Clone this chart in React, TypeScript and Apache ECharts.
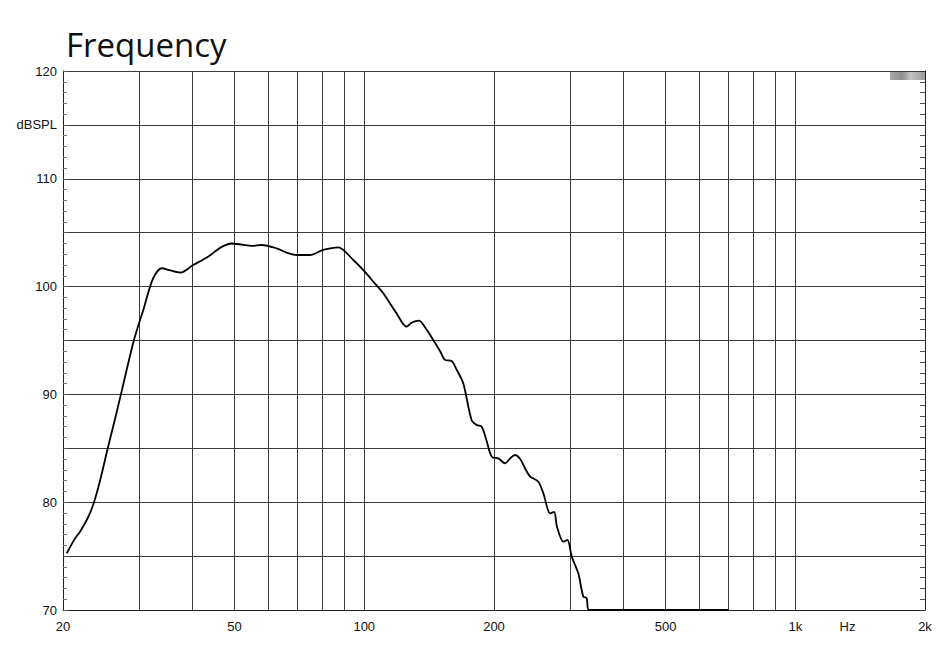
import React, { useEffect, useRef } from "react";
import * as echarts from "echarts";

// Frequency response (Hz, dBSPL)
const freqHz = [
  20.4, 21.3, 21.9, 22.9, 23.6, 24.4, 25.4, 26.4, 27.4, 29.2, 30.8, 32.4, 33.9, 35.5, 37.4,
  40.1, 43.5, 46.5, 49.2, 52, 54.8, 57.8, 62.6, 66, 69.7, 74.8, 80.3, 87.0, 94.3, 100.3,
  105, 110.7, 118.9, 125.4, 129, 134.0, 139, 144.6, 150, 153.9, 159.5, 164, 169.7, 177.5,
  182.4, 187.3, 192, 197.6, 204.6, 212.3, 218, 223.8, 230, 236, 242.4, 253.4, 260.3, 269.9,
  275.7, 280, 289.7, 296, 303, 313.8, 322.3, 328.1, 332, 400, 500, 600, 700,
];
const splDb = [
  75.26, 76.6, 77.26, 78.65, 79.99, 82.06, 85.0, 87.7, 90.4, 95.0, 98.0, 100.8, 101.7, 101.5, 101.3,
  102.0, 102.8, 103.64, 104.0, 103.9, 103.77, 103.86, 103.55, 103.15, 102.93, 102.93, 103.4, 103.64, 102.47, 101.38,
  100.45, 99.38, 97.5, 96.28, 96.67, 96.84, 96.1, 95.05, 94.0, 93.2, 93.1, 92.26, 91.03, 87.6,
  87.16, 87.0, 85.77, 84.22, 84.07, 83.6, 84.07, 84.38, 84.0, 83.15, 82.4, 81.9, 80.83, 78.97,
  79.1, 77.73, 76.34, 76.5, 74.95, 73.4, 71.24, 71.1, 70.0, 70.0, 70.0, 70.0, 70.0,
];

// Axis definitions
const xMinHz = 20;
const xMaxHz = 2000;
const xGridHz = [30, 40, 50, 60, 70, 80, 90, 100, 200, 300, 400, 500, 600, 700, 800, 900, 1000];
const xLabelHz = [20, 50, 100, 200, 500, 1000, 1322, 2000];
const xLabelText = ["20", "50", "100", "200", "500", "1k", "Hz", "2k"];
const yMin = 70;
const yMax = 120;
const yStep = 5;
const yUnitValue = 115;
const yUnitText = "dBSPL";
const titleText = "Frequency";

export default function App() {
  const ref = useRef<HTMLDivElement>(null);

  useEffect(() => {
    if (!ref.current) return;
    const chart = echarts.init(ref.current, undefined, { renderer: "svg" });
    const lg = (v: number) => Math.log10(v);
    const labelLogs = xLabelHz.map(lg);
    const fmtX = (v: number) => {
      let best = -1;
      let bd = 1e9;
      labelLogs.forEach((l, i) => {
        const d = Math.abs(l - v);
        if (d < bd) {
          bd = d;
          best = i;
        }
      });
      return bd < 1e-4 ? xLabelText[best] : "";
    };
    const fmtY = (v: number) => {
      if (Math.abs(v - yUnitValue) < 1e-6) return yUnitText;
      if (Math.round(v) % 10 === 0) return String(Math.round(v));
      return "";
    };
    const font = "'Liberation Sans', Arial, sans-serif";
    const gridColor = "#3a3a3a";
    const option: any = {
      animation: false,
      backgroundColor: "#ffffff",
      title: {
        text: titleText,
        left: 61,
        top: 23,
        textStyle: {
          fontFamily: "'Open Sans', 'Noto Sans', sans-serif",
          fontSize: 33,
          fontWeight: "normal",
          color: "#111",
        },
      },
      grid: { left: 63, right: 20, top: 71, bottom: 36, containLabel: false },
      xAxis: {
        type: "value",
        min: lg(xMinHz),
        max: lg(xMaxHz),
        axisLine: { show: true, lineStyle: { color: "#222", width: 1 } },
        axisTick: { show: false, customValues: xGridHz.map(lg) },
        axisLabel: {
          customValues: labelLogs,
          formatter: fmtX,
          fontFamily: font,
          fontSize: 13,
          color: "#111",
          margin: 10,
          showMinLabel: true,
          showMaxLabel: true,
        },
        splitLine: { show: true, lineStyle: { color: gridColor, width: 1 } },
      },
      yAxis: [
        {
          type: "value",
          min: yMin,
          max: yMax,
          interval: yStep,
          axisLine: { show: true, lineStyle: { color: "#222", width: 1 } },
          axisTick: { show: true, inside: true, length: 5, lineStyle: { color: "#555" } },
          minorTick: { show: true, splitNumber: 5, length: 4, lineStyle: { color: "#777" } },
          axisLabel: { formatter: fmtY, fontFamily: font, fontSize: 13, color: "#111", margin: 6 },
          splitLine: { show: true, lineStyle: { color: gridColor, width: 1 } },
        },
        {
          type: "value",
          position: "right",
          min: yMin,
          max: yMax,
          interval: yStep,
          axisLine: { show: true, lineStyle: { color: "#222", width: 1 } },
          axisTick: { show: true, inside: true, length: 5, lineStyle: { color: "#333" } },
          minorTick: { show: true, splitNumber: 5, length: 5, lineStyle: { color: "#555" } },
          axisLabel: { show: false },
          splitLine: { show: false },
        },
      ],
      graphic: [
        {
          type: "rect",
          right: 20,
          top: 71,
          shape: { width: 35, height: 9 },
          style: {
            fill: new echarts.graphic.LinearGradient(0, 0, 1, 0, [
              { offset: 0, color: "#a8a8a8" },
              { offset: 0.35, color: "#8e8e8e" },
              { offset: 0.6, color: "#c4c4c4" },
              { offset: 1, color: "#9a9a9a" },
            ]),
          },
          silent: true,
        },
      ],
      series: [
        {
          type: "line",
          data: freqHz.map((f, i) => [lg(f), splDb[i]]),
          showSymbol: false,
          smooth: 0.3,
          clip: true,
          lineStyle: { color: "#000", width: 1.8 },
        },
      ],
    };
    chart.setOption(option);
    return () => chart.dispose();
  }, []);

  return (
    <div
      ref={ref}
      style={{ position: "fixed", left: 0, top: 0, width: 945, height: 646, background: "#fff" }}
    />
  );
}
